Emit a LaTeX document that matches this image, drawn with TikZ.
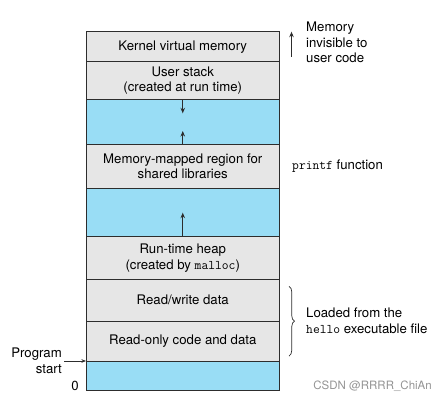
\documentclass[tikz,border=0pt]{standalone}
\usepackage{fontspec}
\setmainfont{TeX Gyre Heros}
\usetikzlibrary{arrows.meta, positioning, decorations.pathreplacing}
\definecolor{seggray}{RGB}{230,230,230}
\definecolor{segblue}{RGB}{153,221,245}
\definecolor{segline}{RGB}{45,45,45}

\begin{document}
\begin{tikzpicture}[
  x=1pt, y=-1pt,
  font=\fontsize{13.2}{15.6}\selectfont,
  node distance=0pt,
  >={Stealth[length=5.5pt, width=4.5pt]},
  seg/.style={draw=segline, line width=0.9pt, fill=#1, minimum width=193.5pt,
              inner sep=0pt, outer sep=0pt, align=center},
  seg/.default=seggray,
  region/.style={seg=seggray},
  hole/.style={seg=segblue},
  growth/.style={->, line width=0.8pt, draw=segline},
  ptr/.style={->, line width=0.6pt, draw=segline, >={Stealth[length=4.5pt, width=3.5pt]}},
  note/.style={align=left, inner sep=0pt},
  bracket/.style={decorate, decoration={brace, amplitude=5.5pt}, line width=0.7pt, draw=segline},
  wmark/.style={font=\fontsize{11.5}{13}\selectfont, text=black!42, inner sep=0pt},
]
\useasboundingbox (0,0) rectangle (446,405);

% ---------- Address space ----------
\node[region, minimum height=30pt] (kern) at (182.75,46.7) {Kernel virtual memory};
\node[region, minimum height=37.6pt, below=of kern]   (ustack) {User stack\\(created at run time)};
\node[hole,   minimum height=44.7pt, below=of ustack] (gap1)   {};
\node[region, minimum height=44.3pt, below=of gap1]   (mmap)   {Memory-mapped region for\\shared libraries};
\node[hole,   minimum height=48.4pt, below=of mmap]   (gap2)   {};
\node[region, minimum height=42.6pt, below=of gap2]   (heap)   {Run-time heap\\(created by \texttt{malloc})};
\node[region, minimum height=41.7pt, below=of heap]   (rwdata) {Read/write data};
\node[region, minimum height=40pt,   below=of rwdata] (rodata) {Read-only code and data};
\node[hole,   minimum height=29pt,   below=of rodata] (gap3)   {};

% growth of stack and heap
\draw[growth] (gap1.north) -- ++(0,14);
\draw[growth] (gap1.south) -- ++(0,-13);
\draw[growth] (gap2.south) -- ++(0,-24);

% ---------- Notes on the right ----------
\draw[growth] ([xshift=12pt, yshift=5pt]kern.south east) -- ([xshift=12pt]kern.north east);
\node[note, anchor=north west] (memnote) at ([xshift=26.5pt, yshift=10pt]kern.north east)
  {Memory\\invisible to\\user code};
\node[note, anchor=west] (printfnote) at ([xshift=12.5pt]mmap.east) {\texttt{printf} function};
\draw[bracket] ([xshift=9.5pt, yshift=-7pt]rwdata.north east) -- ([xshift=9.5pt, yshift=5pt]rodata.south east);
\node[note, anchor=west] (loadnote) at ([xshift=26.5pt]rodata.north east)
  {Loaded from the\\\texttt{hello} executable file};

% ---------- Notes on the left ----------
\node[note, align=right, anchor=east] (pstart) at ([xshift=-24pt]rodata.south west) {Program\\start};
\draw[ptr] ([xshift=2pt]pstart.east) -- (rodata.south west);
\node[inner sep=0pt] (zero) at ([xshift=-11pt, yshift=4.5pt]gap3.south west) {0};

\node[wmark, anchor=east] (csdn) at (432,386) {CSDN @RRRR\_ChiAn};
\end{tikzpicture}
\end{document}
